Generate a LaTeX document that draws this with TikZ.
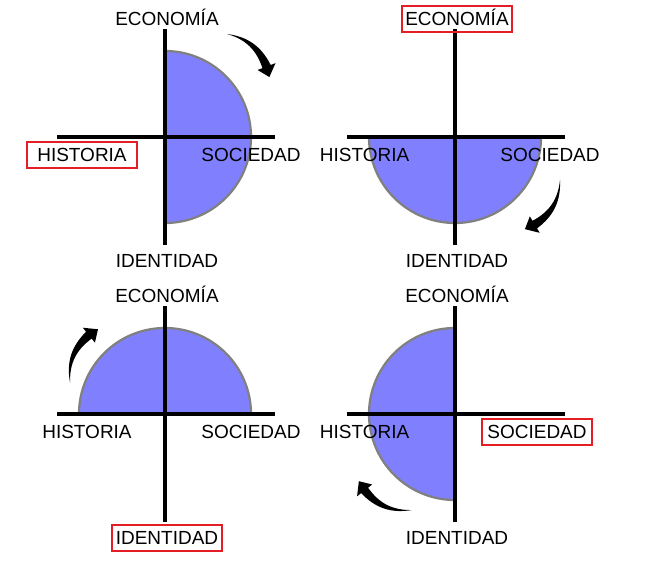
\documentclass[tikz,border=0pt]{standalone}
\usepackage{fontspec}
\setmainfont{Liberation Sans}
\usetikzlibrary{calc}
\definecolor{halfblue}{RGB}{128,128,255}
\definecolor{rimgray}{RGB}{128,128,128}
\definecolor{markred}{RGB}{228,30,36}
\tikzset{
    axis/.style={line width=2.2pt},
    half/.style={fill=halfblue, draw=rimgray, line width=1.6pt},
    lbl/.style={font=\fontsize{13.5pt}{16pt}\selectfont, text height=9.6pt,
                text depth=0pt, minimum width=2.75cm, minimum height=0.62cm,
                inner sep=0pt},
    marked/.style={draw=markred, line width=1.4pt},
    turn/.pic={
        \fill (80:1.3) to[bend left=28] (21:1.41) -- (21:1.54) -- (9:1.3)
              -- (21:1.06) -- (21:1.19) to[bend right=28] cycle;
    },
}

\begin{document}
\begin{tikzpicture}
    \path[use as bounding box] (0,0) rectangle (16.25,14.05);

    \foreach \n/\x/\y/\s/\hx/\sx/\ax/\ay/\r in {
        1/4.125/10.625/-90/-2.075/2.15/1.325/1.295/0,
        2/11.375/10.625/180/-2.26/2.375/1.325/-1.075/-80,
        3/4.125/3.7/0/-1.95/2.15/-1.085/0.96/108,
        4/11.375/3.7/90/-2.26/2.05/-1.235/-1.11/197} {
        \coordinate (c\n) at (\x,\y);
        \path[half] (c\n) ++(\s:2.15)
            arc[start angle=\s, end angle=\s+180, radius=2.15] -- cycle;
        \draw[axis] ($(c\n)+(0,2.7)$) -- ($(c\n)+(0,-2.7)$);
        \draw[axis] ($(c\n)+(-2.7,0)$) -- ($(c\n)+(2.75,0)$);

        \node[lbl] (eco\n) at ($(c\n)+(0.05,2.95)$) {ECONOMÍA};
        \node[lbl] (his\n) at ($(c\n)+(\hx,-0.45)$) {HISTORIA};
        \node[lbl] (soc\n) at ($(c\n)+(\sx,-0.45)$) {SOCIEDAD};
        \node[lbl] (ide\n) at ($(c\n)+(0.05,-3.1)$) {IDENTIDAD};
        \pic[rotate=\r] at ($(c\n)+(\ax,\ay)$) {turn};
    }

    \foreach \m in {his1,eco2,ide3,soc4}
        \draw[marked] (\m.south west) rectangle (\m.north east);
\end{tikzpicture}
\end{document}
